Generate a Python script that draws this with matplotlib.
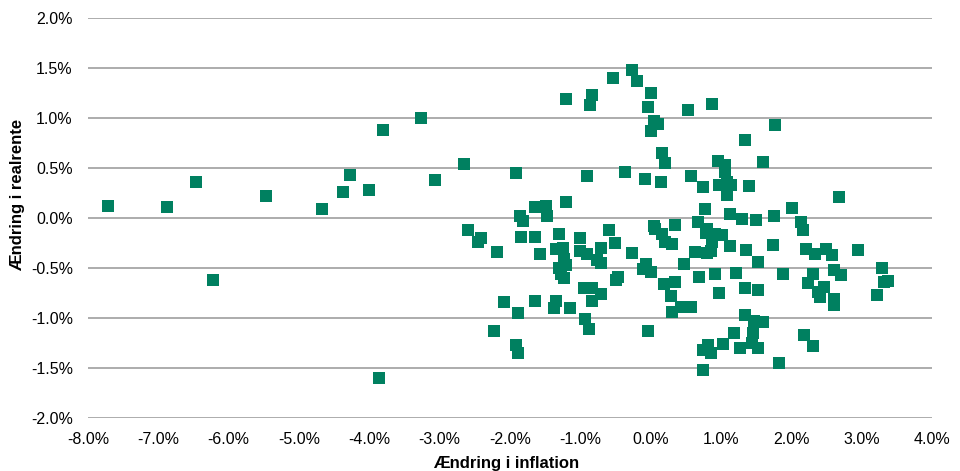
import matplotlib
matplotlib.use('Agg')
import matplotlib.pyplot as plt
from matplotlib.ticker import FuncFormatter, MultipleLocator

plt.rcParams['font.family'] = ['Liberation Sans', 'DejaVu Sans']

# Ændring i inflation (%), Ændring i realrente (%)
inflation = [
    -7.72, -6.88, -6.46, -6.23, -5.47, -4.68, -4.38, -4.27, -4.00, -3.86,
    -3.80, -3.26, -3.06, -2.65, -2.60, -2.41, -2.45, -2.19, -2.23, -2.09,
    -1.92, -1.91, -1.88, -1.89, -1.86, -1.81, -1.85, -1.65, -1.65, -1.65,
    -1.57, -1.49, -1.47, -1.35, -1.25, -1.31, -1.34, -1.38, -1.24, -1.20,
    -1.30, -1.27, -1.24, -1.21, -1.20, -1.15, -1.00, -1.01, -0.91, -0.94,
    -0.88, -0.95, -0.84, -0.83, -0.90, -0.87, -0.83, -0.77, -0.71, -0.71,
    -0.70, -0.60, -0.54, -0.51, -0.50, -0.46, -0.36, -0.27, -0.26, -0.20,
    -0.085, -0.11, -0.06, -0.04, -0.04, 0.00, 0.01, 0.01, 0.05, 0.10,
    0.04, 0.06, 0.14, 0.16, 0.20, 0.16, 0.20, 0.30, 0.34, 0.19,
    0.34, 0.29, 0.30, 0.43, 0.57, 0.47, 0.53, 0.57, 0.63, 0.67,
    0.68, 0.74, 0.77, 0.80, 0.78, 0.80, 0.85, 0.87, 0.91, 1.01,
    0.87, 0.91, 0.95, 0.97, 0.97, 1.05, 1.05, 1.08, 1.14, 1.08,
    1.13, 1.13, 1.21, 0.74, 0.81, 0.85, 0.75, 1.03, 1.18, 1.27,
    1.30, 1.34, 1.34, 1.34, 1.35, 1.40, 1.45, 1.44, 1.47, 1.50,
    1.52, 1.52, 1.52, 1.59, 1.59, 1.74, 1.75, 1.77, 1.82, 1.88,
    2.01, 2.14, 2.16, 2.21, 2.18, 2.24, 2.31, 2.31, 2.34, 2.38,
    2.41, 2.46, 2.49, 2.58, 2.61, 2.61, 2.61, 2.68, 2.71, 2.95,
    3.22, 3.29, 3.32, 3.37,
]
realrente = [
    0.12, 0.11, 0.36, -0.62, 0.22, 0.09, 0.26, 0.43, 0.28, -1.60,
    0.88, 1.00, 0.38, 0.54, -0.12, -0.20, -0.24, -0.34, -1.13, -0.84,
    0.45, -1.27, -1.35, -0.95, 0.02, -0.03, -0.19, -0.19, 0.11, -0.83,
    -0.36, 0.12, 0.02, -0.31, -0.30, -0.16, -0.83, -0.90, -0.41, -0.47,
    -0.50, -0.56, -0.60, 1.19, 0.16, -0.90, -0.20, -0.33, -0.36, -1.01,
    -1.11, -0.70, -0.70, -0.83, 0.42, 1.13, 1.23, -0.42, -0.45, -0.76,
    -0.30, -0.12, 1.40, -0.25, -0.62, -0.59, 0.46, -0.35, 1.48, 1.37,
    0.39, -0.51, -0.46, 1.11, -1.13, -0.54, 1.25, 0.87, 0.97, 0.94,
    -0.08, -0.11, 0.36, 0.65, 0.55, -0.16, -0.24, -0.26, -0.07, -0.66,
    -0.64, -0.78, -0.94, -0.89, -0.89, -0.46, 1.08, 0.42, -0.34, -0.04,
    -0.59, 0.31, 0.09, -0.11, -0.15, -0.35, -0.33, -0.24, -0.16, -0.17,
    1.14, -0.56, 0.57, 0.33, -0.75, 0.53, 0.46, 0.36, 0.33, 0.23,
    0.04, -0.28, -0.55, -1.32, -1.27, -1.35, -1.52, -1.26, -1.15, -1.30,
    -0.01, 0.78, -0.70, -0.97, -0.32, 0.32, -1.15, -1.25, -1.03, -0.02,
    -0.72, -0.44, -1.30, 0.56, -1.04, -0.27, 0.02, 0.93, -1.45, -0.56,
    0.10, -0.04, -0.12, -0.31, -1.17, -0.65, -0.56, -1.28, -0.36, -0.74,
    -0.79, -0.69, -0.31, -0.37, -0.52, -0.81, -0.87, 0.21, -0.57, -0.32,
    -0.77, -0.50, -0.64, -0.63,
]

fig = plt.figure(figsize=(9.6, 4.71), dpi=100)
ax = fig.add_axes([0.0917, 0.1119, 0.8792, 0.8499])

ax.scatter(inflation, realrente, marker='s', s=74, color='#008060',
           linewidths=0, zorder=3)

ax.set_xlim(-8, 4)
ax.set_ylim(-2, 2)
ax.xaxis.set_major_locator(MultipleLocator(1))
ax.yaxis.set_major_locator(MultipleLocator(0.5))
pct = FuncFormatter(lambda v, p: f'{v:.1f}%')
ax.xaxis.set_major_formatter(pct)
ax.yaxis.set_major_formatter(pct)

ax.grid(axis='y', color='#a6a6a6', linewidth=1.3, zorder=0)
ax.set_axisbelow(True)
for s in ax.spines.values():
    s.set_visible(False)
ax.tick_params(axis='both', length=0, labelsize=11.5, colors='black')
ax.tick_params(axis='x', pad=10)
ax.tick_params(axis='y', pad=11)

ax.set_xlabel('Ændring i inflation', fontsize=12, fontweight='bold')
ax.set_ylabel('Ændring i realrente', fontsize=12, fontweight='bold')
ax.xaxis.set_label_coords(0.495, -0.093)
ax.yaxis.set_label_coords(-0.075, 0.558)

fig.savefig('out.png', dpi=100)
